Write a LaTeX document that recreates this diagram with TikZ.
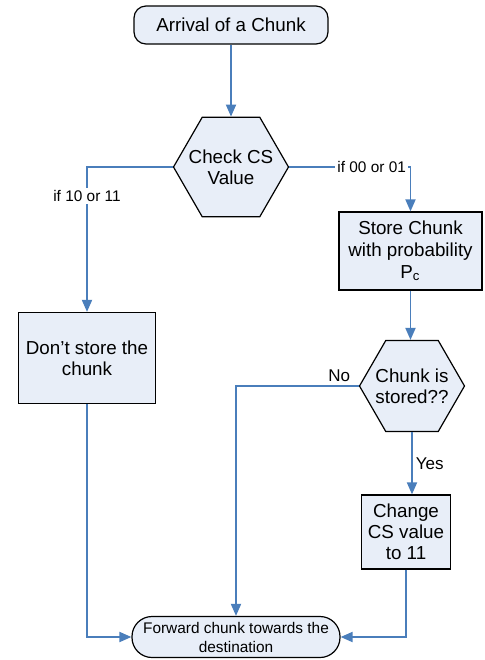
\documentclass[tikz,border=0pt]{standalone}
\usepackage{fontspec}
\setmainfont{Liberation Sans}
\usetikzlibrary{shapes.geometric,arrows.meta}
\definecolor{boxfill}{RGB}{232,238,248}
\definecolor{flowblue}{RGB}{74,126,187}

\begin{document}
\begin{tikzpicture}[x=0.5pt,y=-0.5pt,
	box/.style={draw=black,fill=boxfill,line width=0.6pt,align=center,inner sep=2pt,
		font=\fontsize{9.4}{10.5}\selectfont},
	hexa/.style={box,regular polygon,regular polygon sides=6,inner sep=0pt},
	hexatext/.style={align=center,inner sep=0pt,font=\fontsize{9.4}{10.5}\selectfont},
	flow/.style={draw=flowblue,line width=0.9pt,-{Triangle[length=6pt,width=5pt]}},
	lbl/.style={fill=white,inner sep=1pt,font=\fontsize{7.7}{9}\selectfont},
	ans/.style={inner sep=1.5pt,font=\fontsize{8.5}{10}\selectfont}]
	\useasboundingbox (0,0) rectangle (485,660);
	
	\node[box,rounded corners=6pt,minimum width=97pt,minimum height=19pt] (arrival) at (231,25) {Arrival of a Chunk};
	\node[hexa,minimum size=57.5pt,label={[hexatext]center:Check CS\\Value}] (check) at (231,167) {};
	\node[box,minimum width=71.5pt,minimum height=39pt,font=\fontsize{9.4}{11}\selectfont] (store) at (410.5,251) {Store Chunk\\with probability\\P\textsubscript{c}};
	\node[box,minimum width=68.5pt,minimum height=45.5pt] (dont) at (87,358) {Don’t store the\\chunk};
	\node[hexa,minimum size=52.5pt,label={[hexatext]center:Chunk is\\stored??}] (stored) at (412,386) {};
	\node[box,minimum width=44.5pt,minimum height=37pt] (change) at (406,532) {Change\\CS value\\to 11};
	\node[box,rounded corners=10pt,minimum width=104pt,minimum height=20.5pt,inner sep=0.5pt,
		font=\fontsize{7.7}{9.5}\selectfont] (fwd) at (236,637) {Forward chunk towards the\\destination};
	
	\draw[flow] (arrival) -- (check);
	\draw[flow] (check.east) -| node[lbl,pos=0.34] {if 00 or 01} (store.north);
	\draw[flow] (check.west) -| node[lbl,pos=0.6] {if 10 or 11} (dont.north);
	\draw[flow] (store.south) -- (store.south |- stored.north);
	\draw[flow] (stored.west) -| node[ans,pos=0.08,above] {No} (fwd.north);
	\draw[flow] (stored.south) -- node[ans,right] {Yes} (stored.south |- change.north);
	\draw[flow] (change.south) |- (fwd.east);
	\draw[flow] (dont.south) |- (fwd.west);
	
\end{tikzpicture}
\end{document}
